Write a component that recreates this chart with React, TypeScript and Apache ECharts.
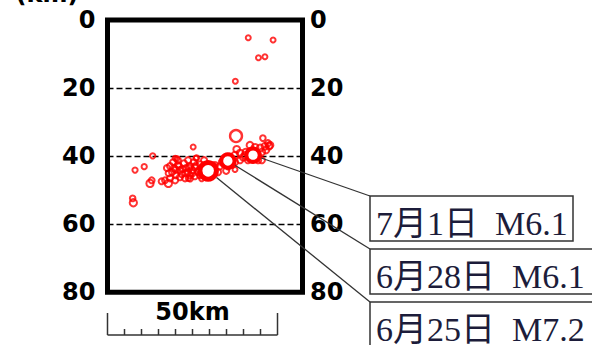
import React, { useEffect, useRef } from 'react';
import * as echarts from 'echarts';

// Aftershocks: horizontal distance (km), depth (km), magnitude
const afterDist = [
  41.4, 48.7, 44.4, 46.3, 37.6,
  37.8, 45.7, 47.2, 47.5, 25.2, 13.3, 20.4, 26.2, 8.1, 10.8,
  12.5, 13.0, 15.9, 16.9, 17.9, 7.4, 7.6, 24.3, 37.5, 23.8, 27.7, 19.9, 26.0,
  17.5, 18.4, 19.0, 19.6, 20.1, 20.7, 21.3, 21.9, 22.5, 23.1, 23.7, 24.3, 24.9, 25.4, 25.7, 26.6, 27.2, 27.8,
  18.4, 19.9, 21.3, 22.8, 24.3, 25.7, 27.2, 28.4, 29.0, 23.7, 20.7, 19.3,
  20.0, 22.0, 24.0, 26.0, 21.0, 23.0, 25.0, 18.0, 27.0, 28.0,
  33.7, 34.6, 36.0, 37.5, 39.0, 39.9, 40.7, 41.9, 43.4, 44.9, 45.4, 46.3, 47.8, 46.6,
  44.3, 41.3, 39.0, 36.6, 40.4, 45.4, 37.5, 31.6, 30.7, 32.5, 34.9,
  38.0, 42.5, 44.0, 35.5, 33.0, 31.0,
];
const afterDepth = [
  5.2, 5.9, 11.1, 10.8, 18.0,
  34.1, 34.7, 36.2, 37.1, 37.3, 39.9, 40.7, 40.5, 44.1, 43.1,
  48.0, 47.1, 47.4, 47.1, 48.0, 52.4, 53.7, 46.6, 43.9, 46.5, 46.6, 40.6, 40.6,
  43.5, 42.9, 44.7, 43.5, 45.6, 42.6, 44.1, 45.3, 42.1, 43.5, 44.7, 42.9, 44.1, 41.8, 43.2, 44.7, 42.4, 43.5,
  46.5, 47.1, 46.2, 46.5, 45.6, 45.9, 45.6, 41.2, 42.6, 41.2, 41.2, 41.8,
  44.0, 43.8, 43.4, 42.8, 43.0, 45.0, 45.0, 45.0, 44.0, 44.5,
  41.8, 40.9, 40.3, 39.7, 39.1, 40.3, 38.8, 36.8, 37.4, 37.6, 38.8, 37.1, 36.8, 38.2,
  41.2, 41.2, 41.2, 42.6, 39.7, 41.2, 41.8, 42.6, 43.5, 44.7, 44.3,
  38.0, 39.0, 39.5, 43.0, 43.0, 45.0,
];
const afterMag = [
  3.2, 3.2, 3.2, 3.2, 3.2,
  5.6, 3.4, 3.6, 3.8, 3.2, 3.3, 3.2, 3.3, 3.3, 3.3,
  4.0, 3.5, 3.5, 3.5, 4.0, 3.4, 4.0, 3.4, 3.2, 3.3, 3.3, 3.2, 3.2,
  3.6, 3.6, 3.6, 3.6, 3.6, 3.6, 3.6, 3.6, 3.6, 3.6, 3.6, 3.6, 3.6, 3.6, 3.6, 3.6, 3.6, 3.6,
  3.6, 3.6, 3.6, 3.6, 3.6, 3.6, 3.6, 3.6, 3.6, 3.6, 3.6, 3.6,
  3.6, 3.6, 3.6, 3.6, 3.6, 3.6, 3.6, 3.6, 3.6, 3.6,
  3.8, 3.8, 3.8, 3.8, 3.8, 3.8, 3.8, 3.8, 3.8, 3.8, 3.8, 3.8, 3.8, 3.8,
  3.6, 3.6, 3.6, 3.6, 3.6, 3.6, 3.6, 3.6, 3.6, 3.6, 3.6,
  3.8, 3.8, 3.8, 3.6, 3.6, 3.6,
];

// Main shocks
const mainDist = [29.6, 35.4, 42.8];
const mainDepth = [44.3, 41.4, 39.7];
const mainMag = [7.2, 6.1, 6.1];
const mainLabels = ['6月25日  M7.2', '6月28日  M6.1', '7月1日  M6.1'];

const depthTicks = [0, 20, 40, 60, 80];
const scaleBarKm = 50;
const scaleBarStep = 5;
const scaleBarLabel = '50km';
const unitLabel = '(km)';

// layout (pixels)
const LABEL_BOX = [
  { left: 370, top: 302, width: 232, height: 45 },
  { left: 370, top: 249, width: 225, height: 45 },
  { left: 370, top: 196, width: 203, height: 45 },
];

const symSize = (m: number) => 4.4 + (m - 3) * 2.9;
const strokeW = (m: number) => (m >= 7 ? 5 : m >= 6 ? 4 : m >= 5 ? 2.4 : 2);

const sansBold = { fontFamily: 'DejaVu Sans', fontWeight: 'bold' as const, fontSize: 24, color: '#000' };

export default function App() {
  const ref = useRef<HTMLDivElement>(null);
  useEffect(() => {
    if (!ref.current) return;
    const chart = echarts.init(ref.current, undefined, { renderer: 'svg' });
    const afterData = afterDist.map((d, i) => ({
      value: [d, afterDepth[i], afterMag[i]],
      itemStyle: { borderWidth: strokeW(afterMag[i]) },
    }));
    const mainData = mainDist.map((d, i) => ({
      value: [d, mainDepth[i], mainMag[i]],
      itemStyle: { borderWidth: strokeW(mainMag[i]) },
    }));
    chart.setOption({
      animation: false,
      grid: {
        left: 107.5, top: 20, width: 195, height: 272.3,
        show: true, borderColor: '#000', borderWidth: 5, backgroundColor: 'transparent',
      },
      xAxis: { type: 'value', min: 0, max: 57.35, show: false },
      yAxis: [
        {
          type: 'value', inverse: true, min: depthTicks[0], max: depthTicks[depthTicks.length - 1], interval: 20,
          position: 'left',
          axisLine: { show: false }, axisTick: { show: false },
          axisLabel: { ...sansBold, margin: 12 },
          splitLine: { show: true, lineStyle: { color: '#000', width: 1.3, type: [6, 3] } },
        },
        {
          type: 'value', inverse: true, min: depthTicks[0], max: depthTicks[depthTicks.length - 1], interval: 20,
          position: 'right',
          axisLine: { show: false }, axisTick: { show: false },
          axisLabel: { ...sansBold, margin: 7.5 },
          splitLine: { show: false },
        },
      ],
      series: [
        {
          type: 'scatter', symbol: 'circle', z: 3,
          symbolSize: (v: number[]) => symSize(v[2]),
          itemStyle: { color: 'rgba(0,0,0,0)', borderColor: '#ff0000' },
          data: afterData,
        },
        {
          type: 'scatter', symbol: 'circle', z: 4,
          symbolSize: (v: number[]) => symSize(v[2]),
          itemStyle: { color: '#ffffff', borderColor: '#ff0000', opacity: 1 },
          data: mainData,
        },
      ],
    });

    const graphics: any[] = [];
    // leader lines and label boxes
    mainDist.forEach((d, i) => {
      const p = chart.convertToPixel({ seriesIndex: 1 }, [d, mainDepth[i]]) as number[];
      const box = LABEL_BOX[i];
      const dx = box.left - p[0];
      const dy = box.top - p[1];
      const len = Math.sqrt(dx * dx + dy * dy);
      const r = (symSize(mainMag[i]) + strokeW(mainMag[i])) / 2;
      graphics.push({
        type: 'line', z: 10,
        shape: { x1: p[0] + (dx / len) * r, y1: p[1] + (dy / len) * r, x2: box.left, y2: box.top },
        style: { stroke: '#333', lineWidth: 1.3 },
      });
      graphics.push({
        type: 'rect', z: 10,
        shape: { x: box.left, y: box.top, width: box.width, height: box.height },
        style: { fill: '#fff', stroke: '#333', lineWidth: 1.5 },
      });
      graphics.push({
        type: 'text', z: 11, x: box.left + 6, y: box.top + 27,
        style: {
          text: mainLabels[i], fill: '#1c1c3a',
          font: "34px 'Liberation Serif', 'Noto Sans CJK JP'",
          textAlign: 'left', textVerticalAlign: 'middle',
        },
      });
    });
    // scale bar
    const p0 = chart.convertToPixel({ seriesIndex: 0 }, [0, 0]) as number[];
    const p1 = chart.convertToPixel({ seriesIndex: 0 }, [scaleBarKm, 0]) as number[];
    const baseY = 335;
    graphics.push({
      type: 'line', shape: { x1: p0[0], y1: baseY, x2: p1[0], y2: baseY },
      style: { stroke: '#333', lineWidth: 1.5 },
    });
    for (let k = 0; k <= scaleBarKm; k += scaleBarStep) {
      const px = (chart.convertToPixel({ seriesIndex: 0 }, [k, 0]) as number[])[0];
      const tall = k === 0 || k === scaleBarKm;
      graphics.push({
        type: 'line', shape: { x1: px, y1: tall ? 313 : 329, x2: px, y2: baseY },
        style: { stroke: '#333', lineWidth: 1.5 },
      });
    }
    graphics.push({
      type: 'text', x: (p0[0] + p1[0]) / 2, y: 312,
      style: {
        text: scaleBarLabel, fill: '#000', font: "bold 24px 'DejaVu Sans'",
        textAlign: 'center', textVerticalAlign: 'middle',
      },
    });
    graphics.push({
      type: 'text', x: 47, y: -6,
      style: {
        text: unitLabel, fill: '#000', font: "bold 24px 'DejaVu Sans'",
        textAlign: 'center', textVerticalAlign: 'middle',
      },
    });
    chart.setOption({ graphic: graphics });
    return () => chart.dispose();
  }, []);
  return <div ref={ref} style={{ width: 592, height: 345, position: 'absolute', left: 0, top: 0 }} />;
}
